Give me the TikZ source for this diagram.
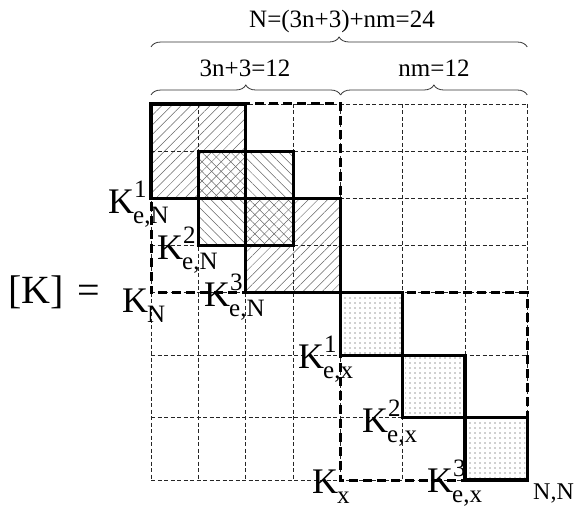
\documentclass[tikz,border=0pt]{standalone}
\usepackage{fontspec}
\setmainfont{Liberation Serif}
\usetikzlibrary{patterns.meta,decorations.pathreplacing}
\newcommand\subsz{\fontsize{25}{25}\selectfont}
\newcommand\KK[2]{\fontsize{36}{36}\selectfont K\rlap{\raisebox{0.42em}{\subsz #1}}\kern-1pt\raisebox{-0.28em}{\subsz #2}}
\tikzset{
  gridline/.style={line width=0.8pt,draw=black!85,dash pattern=on 4pt off 2.5pt},
  thickdash/.style={line width=3pt,draw=black,dash pattern=on 9pt off 5pt},
  solidbox/.style={line width=3.2pt,draw=black,line join=miter},
  nehatch/.style={pattern={Lines[angle=45,distance=6.8pt,line width=0.5pt]},pattern color=black!60},
  nwhatch/.style={pattern={Lines[angle=-45,distance=6.8pt,line width=0.5pt]},pattern color=black!60},
  dotfill/.style={pattern={Dots[distance=5pt,radius=0.6pt]},pattern color=black!80},
  brc/.style={decorate,decoration={brace,amplitude=10pt},line width=0.8pt,draw=black!80},
  lbl/.style={inner sep=0pt,font=\fontsize{25}{25}\selectfont},
  klbl/.style={inner sep=0pt,anchor=base west}
}
\begin{document}
\begin{tikzpicture}[x=1pt,y=-1pt]
\useasboundingbox (0,0) rectangle (576,508);
% hatching
\fill[nehatch] (151,104) rectangle (245.8,198.4);
\fill[nehatch] (245.8,198.4) rectangle (340.6,292.8);
\fill[nwhatch] (198.4,151.2) rectangle (293.2,245.6);
\fill[dotfill] (343,295) rectangle (400.5,353);
\fill[dotfill] (405,357.5) rectangle (462.7,415.5);
\fill[dotfill] (467.3,420) rectangle (525,478);
% grid
\foreach \x in {151,198.4,245.8,293.2,340.6,402.8,465,527.2}
  \draw[gridline] (\x,104) -- (\x,480);
\foreach \y in {104,151.2,198.4,245.6,292.8,355.2,417.6,480}
  \draw[gridline] (151,\y) -- (527.2,\y);
% thick dashed blocks
\draw[thickdash] (151,104) rectangle (340.6,292.8);
\draw[thickdash] (340.6,292.8) rectangle (527.2,480);
% element blocks
\draw[solidbox] (151,104) rectangle (245.8,198.4);
\draw[solidbox] (198.4,151.2) rectangle (293.2,245.6);
\draw[solidbox] (245.8,198.4) rectangle (340.6,292.8);
\draw[solidbox] (340.6,292.8) rectangle (402.8,355.2);
\draw[solidbox] (402.8,355.2) rectangle (465,417.6);
\draw[solidbox] (465,417.6) rectangle (527.2,480);
% braces
\draw[brc] (151,47) -- (527.2,47);
\draw[brc] (151,95) -- (340.6,95);
\draw[brc] (340.6,95) -- (527.2,95);
% labels
\node[lbl,anchor=base] (ntot) at (342,28) {N=(3n+3)+nm=24};
\node[lbl,anchor=base] (nleft) at (245,77) {3n+3=12};
\node[lbl,anchor=base] (nright) at (434,77) {nm=12};
\node[klbl] (ke1) at (108,213) {\KK{1}{e,N}};
\node[klbl] (ke2) at (157,259) {\KK{2}{e,N}};
\node[klbl] (ke3) at (204,306) {\KK{3}{e,N}};
\node[klbl] (kn) at (122,312) {\KK{}{N}};
\node[klbl] (kx1) at (298,368) {\KK{1}{e,x}};
\node[klbl] (kx2) at (362,432) {\KK{2}{e,x}};
\node[klbl] (kx3) at (427,492) {\KK{3}{e,x}};
\node[klbl] (kx) at (312,493) {\KK{}{x}};
\node[klbl,font=\fontsize{24}{24}\selectfont] (nn) at (533,499) {N,N};
\node[klbl,font=\fontsize{40}{40}\selectfont] (kmat) at (8,303) {[K]\hspace{4pt} =};
\end{tikzpicture}
\end{document}
